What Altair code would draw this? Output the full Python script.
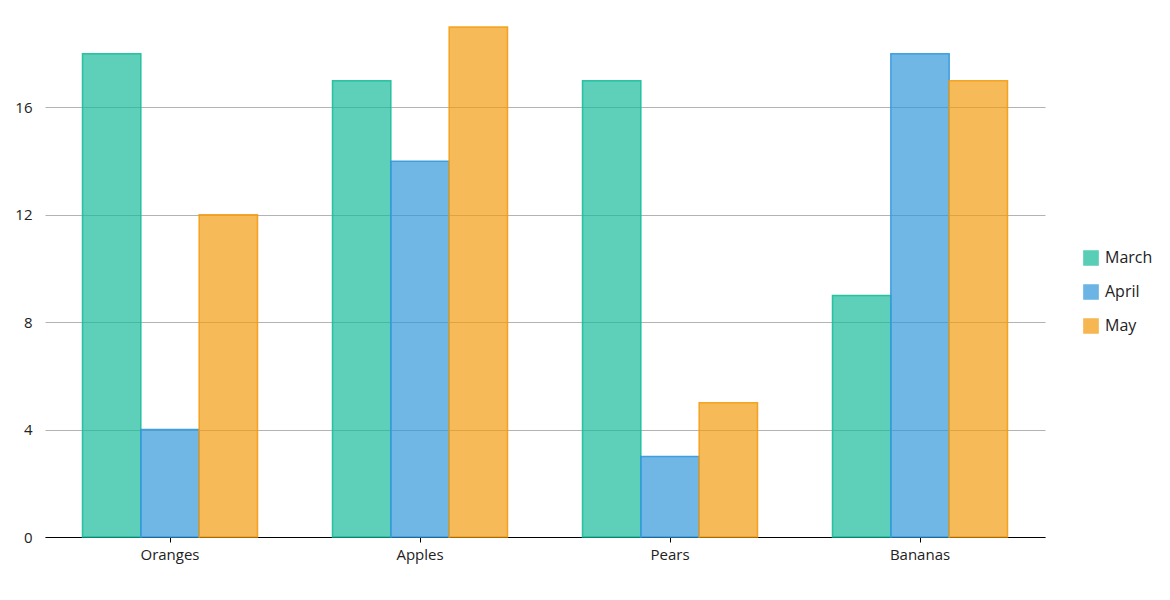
import altair as alt
import pandas as pd

categories = ["Oranges", "Apples", "Pears", "Bananas"]
series = ["March", "April", "May"]
march = [18, 17, 17, 9]
april = [4, 14, 3, 18]
may = [12, 19, 5, 17]
colors = ["#1ABC9C", "#3498DB", "#F39C12"]
y_ticks = [0, 4, 8, 12, 16]

rows = []
for i, c in enumerate(categories):
    for s, vals in zip(series, [march, april, may]):
        rows.append({"fruit": c, "month": s, "value": vals[i]})
df = pd.DataFrame(rows)

FONT = "Open Sans"

chart = alt.Chart(df).mark_bar(
    fillOpacity=0.7, strokeWidth=1.5, strokeOpacity=0.9
).encode(
    x=alt.X("fruit:N", sort=categories, title=None,
            scale=alt.Scale(paddingInner=0.3, paddingOuter=0.15),
            axis=alt.Axis(labelAngle=0, domainColor="#000000", domainWidth=1.2,
                          tickColor="#000000", tickSize=5, labelFontSize=15,
                          labelColor="#222222", labelFont=FONT, labelPadding=5)),
    xOffset=alt.XOffset("month:N", sort=series, scale=alt.Scale(paddingInner=0, paddingOuter=0)),
    y=alt.Y("value:Q", title=None,
            scale=alt.Scale(domain=[0, 19.78], nice=False),
            axis=alt.Axis(values=y_ticks, domain=False, ticks=False, labelFontSize=15,
                          labelColor="#222222", labelFont=FONT, labelPadding=13,
                          gridColor="#b3b3b3", gridWidth=1)),
    color=alt.Color("month:N", sort=series,
                    scale=alt.Scale(domain=series, range=colors),
                    legend=alt.Legend(title=None, orient="none", legendX=1038, legendY=244,
                                      symbolType="square", symbolSize=200,
                                      symbolStrokeWidth=1.5, symbolOpacity=0.72,
                                      labelFontSize=16, labelFont=FONT, labelColor="#222222",
                                      rowPadding=12, labelOffset=6)),
    stroke=alt.Stroke("month:N", sort=series,
                      scale=alt.Scale(domain=series, range=colors), legend=None),
).properties(
    width=1000, height=531,
    padding={"left": 45, "top": 6, "right": 125, "bottom": 63},
    autosize=alt.AutoSizeParams(type="none"),
).configure_view(stroke=None).configure_axisX(grid=False)

chart.save("out.html", embed_options={"renderer": "svg", "actions": False})
